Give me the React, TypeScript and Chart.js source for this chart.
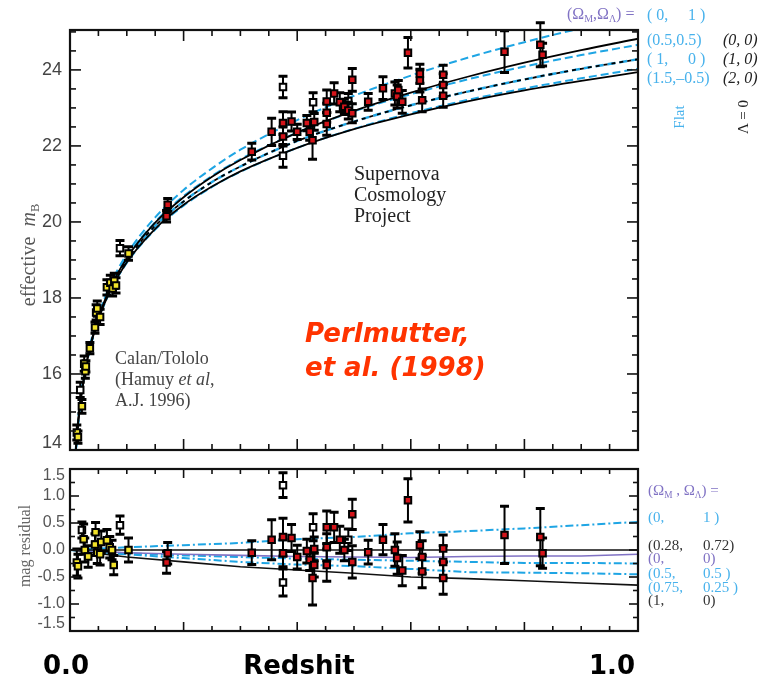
import React, { useEffect, useRef } from 'react';
import { Chart, registerables } from 'chart.js';

Chart.register(...registerables);

// ---------------- Top panel (Hubble diagram) ----------------
// model curves: redshift samples and effective m_B
const curveZ = [0.01, 0.015, 0.02, 0.03, 0.04, 0.05, 0.07, 0.1, 0.15, 0.2, 0.25, 0.3, 0.4, 0.5, 0.6, 0.7, 0.8, 0.9, 1.0];
const m00 = [13.95, 14.84, 15.47, 16.36, 16.99, 17.49, 18.24, 19.05, 19.98, 20.65, 21.19, 21.63, 22.35, 22.92, 23.4, 23.82, 24.19, 24.52, 24.82];
const m10 = [13.95, 14.83, 15.46, 16.34, 16.97, 17.46, 18.2, 18.99, 19.9, 20.54, 21.05, 21.46, 22.13, 22.64, 23.07, 23.43, 23.75, 24.03, 24.28];
const m20 = [13.94, 14.82, 15.44, 16.33, 16.95, 17.44, 18.17, 18.94, 19.82, 20.45, 20.93, 21.33, 21.95, 22.44, 22.83, 23.17, 23.46, 23.71, 23.94];
const mFlat01 = [13.96, 14.85, 15.49, 16.39, 17.04, 17.54, 18.32, 19.15, 20.12, 20.84, 21.41, 21.9, 22.68, 23.32, 23.85, 24.32, 24.73, 25.1, 25.45];
const mFlat55 = [13.95, 14.84, 15.47, 16.37, 17.0, 17.5, 18.26, 19.07, 20.0, 20.68, 21.21, 21.65, 22.35, 22.91, 23.36, 23.75, 24.09, 24.39, 24.66];
const mFlat10 = [13.95, 14.83, 15.46, 16.34, 16.97, 17.46, 18.2, 18.99, 19.9, 20.54, 21.05, 21.46, 22.13, 22.64, 23.07, 23.43, 23.75, 24.03, 24.28];
const mFlat15 = [13.94, 14.82, 15.44, 16.32, 16.94, 17.42, 18.15, 18.92, 19.8, 20.43, 20.92, 21.32, 21.95, 22.45, 22.86, 23.21, 23.51, 23.78, 24.03];

// Calan/Tololo supernovae (yellow)
const ctZ = [0.012, 0.014, 0.021, 0.025, 0.027, 0.028, 0.035, 0.044, 0.046, 0.048, 0.053, 0.065, 0.071, 0.075, 0.078, 0.081, 0.103];
const ctM = [14.46, 14.34, 15.15, 16.27, 16.07, 16.2, 16.68, 17.22, 17.62, 17.72, 17.5, 18.28, 18.4, 18.25, 18.45, 18.33, 19.17];
const ctErr = [0.2, 0.16, 0.18, 0.2, 0.18, 0.15, 0.15, 0.15, 0.2, 0.2, 0.2, 0.2, 0.2, 0.2, 0.2, 0.2, 0.18];
// excluded low-z (open)
const ctOpenZ = [0.018, 0.088];
const ctOpenM = [15.58, 19.31];
const ctOpenErr = [0.2, 0.2];
// Supernova Cosmology Project (red)
const scpZ = [0.17, 0.172, 0.32, 0.355, 0.375, 0.375, 0.39, 0.4, 0.417, 0.422, 0.427, 0.43, 0.452, 0.452, 0.452, 0.465, 0.475, 0.483, 0.49, 0.497, 0.497, 0.525, 0.551, 0.572, 0.576, 0.578, 0.585, 0.595, 0.616, 0.616, 0.62, 0.657, 0.657, 0.657, 0.765, 0.828, 0.832];
const scpM = [20.15, 20.45, 21.85, 22.37, 22.6, 22.25, 22.64, 22.37, 22.6, 22.37, 22.15, 22.63, 23.17, 22.87, 22.58, 23.38, 23.15, 23.03, 22.93, 23.74, 22.86, 23.16, 23.52, 23.38, 23.3, 23.47, 23.16, 24.45, 23.9, 23.72, 23.2, 23.87, 23.6, 23.32, 24.48, 24.66, 24.4];
const scpErr = [0.15, 0.17, 0.22, 0.36, 0.3, 0.25, 0.25, 0.2, 0.2, 0.22, 0.5, 0.22, 0.3, 0.25, 0.3, 0.28, 0.25, 0.2, 0.22, 0.3, 0.25, 0.22, 0.3, 0.3, 0.3, 0.25, 0.3, 0.4, 0.25, 0.3, 0.3, 0.25, 0.3, 0.3, 0.55, 0.58, 0.3];
// excluded SCP (open)
const scpOpenZ = [0.375, 0.375, 0.428, 0.49];
const scpOpenM = [23.55, 21.74, 23.15, 23.18];
const scpOpenErr = [0.28, 0.3, 0.25, 0.2];

const topYLabels = [14, 16, 18, 20, 22, 24];

// ---------------- Bottom panel (residuals) ----------------
const resCurveZ = [0, 0.1, 0.2, 0.3, 0.4, 0.5, 0.6, 0.7, 0.8, 0.9, 1.0];
const r028 = [0, 0, 0, 0, 0, 0, 0, 0, 0, 0, 0];
const r01 = [0, 0.05, 0.09, 0.13, 0.2, 0.24, 0.31, 0.35, 0.4, 0.46, 0.52];
const r00 = [0, -0.05, -0.08, -0.1, -0.12, -0.13, -0.14, -0.12, -0.11, -0.11, -0.08];
const r55 = [0, -0.06, -0.1, -0.13, -0.16, -0.18, -0.2, -0.22, -0.24, -0.24, -0.25];
const r7525 = [0, -0.08, -0.15, -0.22, -0.27, -0.3, -0.35, -0.41, -0.42, -0.43, -0.45];
const r10 = [0, -0.13, -0.22, -0.31, -0.37, -0.43, -0.5, -0.53, -0.57, -0.61, -0.65];

const resCtZ = [0.012, 0.014, 0.024, 0.026, 0.032, 0.044, 0.045, 0.048, 0.053, 0.055, 0.065, 0.07, 0.074, 0.077, 0.103];
const resCtR = [-0.23, -0.3, 0.2, 0.0, -0.12, 0.1, 0.33, -0.05, -0.08, 0.15, 0.18, 0.05, 0.0, -0.28, 0.0];
const resCtErr = [0.25, 0.22, 0.28, 0.22, 0.2, 0.2, 0.18, 0.2, 0.2, 0.2, 0.2, 0.2, 0.18, 0.18, 0.22];
const resCtOpenZ = [0.021, 0.088];
const resCtOpenR = [0.37, 0.46];
const resCtOpenErr = [0.15, 0.17];
const resScpZ = [0.17, 0.172, 0.32, 0.355, 0.375, 0.375, 0.39, 0.4, 0.417, 0.422, 0.427, 0.43, 0.43, 0.452, 0.452, 0.452, 0.465, 0.475, 0.483, 0.497, 0.497, 0.525, 0.551, 0.572, 0.576, 0.585, 0.595, 0.616, 0.62, 0.62, 0.657, 0.657, 0.657, 0.765, 0.828, 0.832];
const resScpR = [-0.23, -0.06, -0.05, 0.19, 0.24, -0.06, 0.22, -0.13, -0.02, -0.18, -0.52, 0.02, -0.28, 0.42, 0.05, -0.28, 0.42, 0.19, 0.0, 0.66, -0.22, -0.04, 0.19, 0.0, -0.15, -0.38, 0.92, 0.09, -0.13, -0.4, 0.03, -0.22, -0.52, 0.28, 0.24, -0.06];
const resScpErr = [0.2, 0.2, 0.22, 0.37, 0.35, 0.25, 0.25, 0.22, 0.22, 0.2, 0.5, 0.22, 0.22, 0.3, 0.25, 0.3, 0.28, 0.25, 0.2, 0.28, 0.3, 0.22, 0.28, 0.3, 0.3, 0.28, 0.4, 0.25, 0.3, 0.3, 0.25, 0.3, 0.3, 0.53, 0.53, 0.28];
const resScpOpenZ = [0.375, 0.375, 0.428, 0.49];
const resScpOpenR = [1.2, -0.6, 0.42, 0.19];
const resScpOpenErr = [0.23, 0.25, 0.25, 0.2];

const botYLabels = [-1.5, -1.0, -0.5, 0.0, 0.5, 1.0, 1.5];

// ---------------- styles ----------------
const BLUE = 'rgb(30,165,228)';
const LBLUE = 'rgb(72,178,236)';
const PURPLE = 'rgb(128,114,196)';
const RED = '#d4141a';
const YELLOW = '#f2e22a';
const SERIF = "'Liberation Serif', 'DejaVu Serif', serif";
const SANSB = "'DejaVu Sans', sans-serif";

const toPts = (xs: number[], ys: number[]) => xs.map((x, i) => ({ x, y: ys[i] }));

const pointDs = (xs: number[], ys: number[], errs: number[], fill: string) => ({
  data: toPts(xs, ys),
  errors: errs,
  showLine: false,
  pointStyle: 'rect',
  pointRadius: 4.6,
  pointBackgroundColor: fill,
  pointBorderColor: '#000',
  pointBorderWidth: 2,
  clip: false,
});

const lineDs = (xs: number[], ys: number[], color: string, width: number, dash: number[], smooth: boolean) => ({
  data: toPts(xs, ys),
  showLine: true,
  pointRadius: 0,
  borderColor: color,
  borderWidth: width,
  borderDash: dash,
  cubicInterpolationMode: smooth ? 'monotone' : 'default',
  fill: false,
});

const errorBarPlugin = {
  id: 'errorBars',
  beforeDatasetDraw(chart: any, args: any) {
    const ds: any = chart.data.datasets[args.index];
    if (!ds.errors) return;
    const ys = chart.scales.y;
    const ctx = chart.ctx;
    ctx.save();
    ctx.strokeStyle = '#000';
    args.meta.data.forEach((el: any, i: number) => {
      const v = ds.data[i].y;
      const e = ds.errors[i];
      const x = el.x;
      const yt = ys.getPixelForValue(v + e);
      const yb = ys.getPixelForValue(v - e);
      ctx.lineWidth = 2;
      ctx.beginPath();
      ctx.moveTo(x, yt);
      ctx.lineTo(x, yb);
      ctx.stroke();
      ctx.lineWidth = 3;
      ctx.beginPath();
      ctx.moveTo(x - 4.5, yt);
      ctx.lineTo(x + 4.5, yt);
      ctx.moveTo(x - 4.5, yb);
      ctx.lineTo(x + 4.5, yb);
      ctx.stroke();
    });
    ctx.restore();
  },
};

function framePlugin(cfg: any) {
  return {
    id: 'frame',
    afterDraw(chart: any) {
      const { ctx, chartArea: a } = chart;
      const x = chart.scales.x;
      const y = chart.scales.y;
      ctx.save();
      ctx.strokeStyle = '#111';
      ctx.lineWidth = 1.6;
      const seg = (x1: number, y1: number, x2: number, y2: number) => {
        ctx.beginPath();
        ctx.moveTo(x1, y1);
        ctx.lineTo(x2, y2);
        ctx.stroke();
      };
      const nx = Math.round((x.max - x.min) / cfg.xMinor);
      for (let i = 0; i <= nx; i++) {
        const v = x.min + i * cfg.xMinor;
        const maj = Math.abs(v / cfg.xMajor - Math.round(v / cfg.xMajor)) < 1e-6;
        const L = maj ? cfg.majorLen : cfg.minorLen;
        const px = x.getPixelForValue(v);
        seg(px, a.top, px, a.top + L);
        seg(px, a.bottom, px, a.bottom - L);
      }
      const ny = Math.floor((y.max - y.min) / cfg.yMinor + 1e-6);
      for (let i = 0; i <= ny; i++) {
        const v = y.min + i * cfg.yMinor;
        const maj = Math.abs(v / cfg.yMajor - Math.round(v / cfg.yMajor)) < 1e-6;
        const L = maj ? cfg.majorLen : cfg.minorLen;
        const py = y.getPixelForValue(v);
        seg(a.left, py, a.left + L, py);
        seg(a.right, py, a.right - L, py);
      }
      ctx.lineWidth = 2.2;
      ctx.strokeRect(a.left, a.top, a.right - a.left, a.bottom - a.top);
      ctx.fillStyle = cfg.labelColor;
      ctx.font = cfg.labelFont;
      ctx.textAlign = 'right';
      ctx.textBaseline = 'middle';
      cfg.labels.forEach((v: number) => {
        let py = y.getPixelForValue(v);
        py = Math.min(Math.max(py, a.top + cfg.clamp), a.bottom - cfg.clamp);
        ctx.fillText(cfg.format(v), a.left - cfg.gap, py);
      });
      ctx.restore();
    },
  };
}

function topConfig(): any {
  return {
    type: 'scatter',
    data: {
      datasets: [
        pointDs(scpZ, scpM, scpErr, RED),
        pointDs(ctZ, ctM, ctErr, YELLOW),
        pointDs(scpOpenZ, scpOpenM, scpOpenErr, '#ffffff'),
        pointDs(ctOpenZ, ctOpenM, ctOpenErr, '#ffffff'),
        lineDs(curveZ, m00, '#000', 1.8, [], true),
        lineDs(curveZ, m10, '#000', 1.8, [4, 4], true),
        lineDs(curveZ, m20, '#000', 1.8, [], true),
        lineDs(curveZ, mFlat01, BLUE, 2, [8, 4], true),
        lineDs(curveZ, mFlat55, BLUE, 2, [8, 4], true),
        lineDs(curveZ, mFlat10, BLUE, 2.4, [8, 4], true),
        lineDs(curveZ, mFlat15, BLUE, 2, [8, 4], true),
      ],
    },
    options: {
      responsive: false,
      animation: false,
      devicePixelRatio: 1,
      events: [],
      layout: { padding: { left: 70, top: 30, right: 126, bottom: 10 } },
      plugins: { legend: { display: false }, tooltip: { enabled: false } },
      scales: {
        x: { type: 'linear', min: 0, max: 1, display: false },
        y: { type: 'linear', min: 14, max: 25.05, display: false },
      },
    },
    plugins: [
      errorBarPlugin,
      framePlugin({
        xMinor: 0.05, xMajor: 0.2, yMinor: 0.5, yMajor: 2, majorLen: 11, minorLen: 6,
        labels: topYLabels, format: (v: number) => String(v),
        labelFont: "18px 'Liberation Sans', Arial, sans-serif", labelColor: '#444', gap: 8, clamp: 7,
      }),
    ],
  };
}

function botConfig(): any {
  return {
    type: 'scatter',
    data: {
      datasets: [
        pointDs(resScpZ, resScpR, resScpErr, RED),
        pointDs(resCtZ, resCtR, resCtErr, YELLOW),
        pointDs(resScpOpenZ, resScpOpenR, resScpOpenErr, '#ffffff'),
        pointDs(resCtOpenZ, resCtOpenR, resCtOpenErr, '#ffffff'),
        lineDs(resCurveZ, r028, '#111', 1.6, [], false),
        lineDs(resCurveZ, r00, PURPLE, 1.6, [], false),
        lineDs(resCurveZ, r10, '#111', 1.6, [], false),
        lineDs(resCurveZ, r01, BLUE, 2, [8, 3, 2, 3], false),
        lineDs(resCurveZ, r55, BLUE, 2, [8, 3, 2, 3], false),
        lineDs(resCurveZ, r7525, BLUE, 2, [8, 3, 2, 3], false),
      ],
    },
    options: {
      responsive: false,
      animation: false,
      devicePixelRatio: 1,
      events: [],
      layout: { padding: { left: 70, top: 9, right: 126, bottom: 50 } },
      plugins: { legend: { display: false }, tooltip: { enabled: false } },
      scales: {
        x: { type: 'linear', min: 0, max: 1, display: false },
        y: { type: 'linear', min: -1.5, max: 1.5, display: false },
      },
    },
    plugins: [
      errorBarPlugin,
      framePlugin({
        xMinor: 0.05, xMajor: 0.2, yMinor: 0.25, yMajor: 0.5, majorLen: 9, minorLen: 5,
        labels: botYLabels, format: (v: number) => v.toFixed(1),
        labelFont: "16px 'Liberation Sans', Arial, sans-serif", labelColor: '#555', gap: 5, clamp: 7,
      }),
    ],
  };
}

const Sub = ({ children }: any) => (
  <span style={{ fontSize: '0.62em', verticalAlign: '-0.3em' }}>{children}</span>
);

const Txt = ({ x, y, c = '#222', s = 16, it = false, children }: any) => (
  <div
    style={{
      position: 'absolute', left: x, top: y, transform: 'translateY(-50%)', color: c, fontSize: s,
      fontStyle: it ? 'italic' : 'normal', fontFamily: SERIF, whiteSpace: 'pre', lineHeight: 1,
    }}
  >
    {children}
  </div>
);

const Rot = ({ x, y, c = '#222', s = 16, children }: any) => (
  <div
    style={{
      position: 'absolute', left: x, top: y, transform: 'translate(-50%,-50%) rotate(-90deg)', color: c,
      fontSize: s, fontFamily: SERIF, whiteSpace: 'pre', lineHeight: 1,
    }}
  >
    {children}
  </div>
);

const Center = ({ x, y, s, children }: any) => (
  <div
    style={{
      position: 'absolute', left: x, top: y, transform: 'translate(-50%,-50%)', color: '#000', fontSize: s,
      fontFamily: SANSB, fontWeight: 'bold', whiteSpace: 'pre', lineHeight: 1,
    }}
  >
    {children}
  </div>
);

export default function App() {
  const topRef = useRef<HTMLCanvasElement>(null);
  const botRef = useRef<HTMLCanvasElement>(null);
  useEffect(() => {
    const c1 = new Chart(topRef.current as HTMLCanvasElement, topConfig());
    const c2 = new Chart(botRef.current as HTMLCanvasElement, botConfig());
    return () => {
      c1.destroy();
      c2.destroy();
    };
  }, []);
  return (
    <div style={{ position: 'absolute', left: 0, top: 0, width: 764, height: 681, overflow: 'hidden', background: '#fff', fontFamily: SERIF }}>
      <canvas ref={topRef} width={764} height={460} style={{ position: 'absolute', left: 0, top: 0 }} />
      <canvas ref={botRef} width={764} height={221} style={{ position: 'absolute', left: 0, top: 460 }} />

      {/* axis titles */}
      <Rot x={30} y={255} c="#555" s={20}>effective  <i>m</i><Sub>B</Sub></Rot>
      <Rot x={25} y={546} c="#666" s={16}>mag residual</Rot>

      {/* annotations in top panel */}
      <div style={{ position: 'absolute', left: 354, top: 163, fontSize: 20, lineHeight: '21px', color: '#222', fontFamily: SERIF }}>
        Supernova<br />Cosmology<br />Project
      </div>
      <div style={{ position: 'absolute', left: 115, top: 348, fontSize: 18, lineHeight: '21px', color: '#444', fontFamily: SERIF, whiteSpace: 'pre' }}>
        Calan/Tololo<br />(Hamuy <i>et al</i>,<br />A.J. 1996)
      </div>
      <div style={{ position: 'absolute', left: 305, top: 316, fontSize: 26, lineHeight: '34px', color: '#ff3300', fontFamily: SANSB, fontWeight: 'bold', fontStyle: 'oblique', whiteSpace: 'pre' }}>
        Perlmutter,<br />et al. (1998)
      </div>

      {/* top legend */}
      <Txt x={567} y={15} c={PURPLE} s={16}>(Ω<Sub>M</Sub>,Ω<Sub>Λ</Sub>) =</Txt>
      <Txt x={647} y={15} c={LBLUE} s={16}>( 0,</Txt>
      <Txt x={688} y={15} c={LBLUE} s={16}>1 )</Txt>
      <Txt x={647} y={40} c={LBLUE} s={16}>(0.5,0.5)</Txt>
      <Txt x={723} y={40} c="#222" s={16} it>(0, 0)</Txt>
      <Txt x={647} y={59} c={LBLUE} s={16}>( 1,</Txt>
      <Txt x={688} y={59} c={LBLUE} s={16}>0 )</Txt>
      <Txt x={723} y={59} c="#222" s={16} it>(1, 0)</Txt>
      <Txt x={647} y={78} c={LBLUE} s={16}>(1.5,–0.5)</Txt>
      <Txt x={723} y={78} c="#222" s={16} it>(2, 0)</Txt>
      <Rot x={679} y={117} c={LBLUE} s={15}>Flat</Rot>
      <Rot x={743} y={117} c="#222" s={15}>Λ = 0</Rot>

      {/* bottom legend */}
      <Txt x={648} y={492} c={PURPLE} s={15}>(Ω<Sub>M</Sub> , Ω<Sub>Λ</Sub>) =</Txt>
      <Txt x={648} y={517} c={LBLUE} s={15}>(0,</Txt>
      <Txt x={703} y={517} c={LBLUE} s={15}>1 )</Txt>
      <Txt x={648} y={545} c="#333" s={15}>(0.28,</Txt>
      <Txt x={703} y={545} c="#333" s={15}>0.72)</Txt>
      <Txt x={648} y={558} c={PURPLE} s={15}>(0,</Txt>
      <Txt x={703} y={558} c={PURPLE} s={15}>0)</Txt>
      <Txt x={648} y={573} c={LBLUE} s={15}>(0.5,</Txt>
      <Txt x={703} y={573} c={LBLUE} s={15}>0.5 )</Txt>
      <Txt x={648} y={587} c={LBLUE} s={15}>(0.75,</Txt>
      <Txt x={703} y={587} c={LBLUE} s={15}>0.25 )</Txt>
      <Txt x={648} y={600} c="#333" s={15}>(1,</Txt>
      <Txt x={703} y={600} c="#333" s={15}>0)</Txt>

      {/* big axis captions */}
      <Center x={66} y={665} s={26}>0.0</Center>
      <Center x={299} y={665} s={26}>Redshit</Center>
      <Center x={612} y={665} s={26}>1.0</Center>
    </div>
  );
}
